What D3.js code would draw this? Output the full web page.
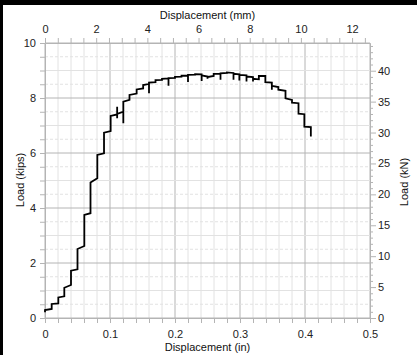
<!DOCTYPE html>
<html>
<head>
<meta charset="utf-8">
<script src="https://cdn.jsdelivr.net/npm/d3@7"></script>
<style>
body { margin: 0; background: #fff; }
svg { display: block; font-family: "Liberation Sans", Arial, sans-serif; }
.tick text { font-size: 11px; fill: #222; }
</style>
</head>
<body>
<div id="chartDiv"></div>
<script>
// load-displacement record (inches, kips)
const dispIn = [
  0, 0, 0.0103, 0.0103, 0.0205, 0.0205, 0.0297, 0.0297, 0.040, 0.040,
  0.050, 0.050, 0.0605, 0.0605, 0.070, 0.070, 0.0805, 0.0805, 0.0908, 0.0908,
  0.101, 0.101, 0.111, 0.111, 0.111, 0.111, 0.1205, 0.1205, 0.1205, 0.130,
  0.130, 0.141, 0.141, 0.151, 0.151, 0.160, 0.160, 0.160, 0.170, 0.170,
  0.180, 0.180, 0.190, 0.190, 0.190, 0.200, 0.200, 0.210, 0.210, 0.220,
  0.220, 0.220, 0.231, 0.231, 0.241, 0.241, 0.241, 0.250, 0.250, 0.250,
  0.2595, 0.2595, 0.270, 0.270, 0.270, 0.280, 0.280, 0.290, 0.290, 0.290,
  0.299, 0.299, 0.299, 0.310, 0.310, 0.310, 0.320, 0.320, 0.320, 0.329,
  0.329, 0.339, 0.339, 0.349, 0.349, 0.349, 0.359, 0.359, 0.370, 0.370,
  0.380, 0.380, 0.390, 0.390, 0.399, 0.399, 0.409, 0.409
];
const loadKips = [
  0.21, 0.29, 0.33, 0.51, 0.53, 0.75, 0.79, 1.10, 1.20, 1.72,
  1.77, 2.51, 2.62, 3.75, 3.81, 4.93, 5.08, 5.93, 5.99, 6.74,
  6.80, 7.35, 7.40, 7.68, 7.26, 7.42, 7.50, 7.08, 7.87, 7.93,
  8.11, 8.16, 8.31, 8.35, 8.47, 8.51, 8.17, 8.56, 8.58, 8.65,
  8.66, 8.70, 8.71, 8.45, 8.72, 8.73, 8.77, 8.78, 8.81, 8.81,
  8.58, 8.84, 8.85, 8.87, 8.86, 8.62, 8.82, 8.78, 8.70, 8.76,
  8.80, 8.88, 8.88, 8.66, 8.90, 8.91, 8.93, 8.91, 8.66, 8.88,
  8.86, 8.64, 8.84, 8.82, 8.60, 8.78, 8.76, 8.60, 8.70, 8.68,
  8.80, 8.80, 8.58, 8.56, 8.30, 8.44, 8.40, 8.30, 8.26, 7.99,
  7.93, 7.83, 7.81, 7.43, 7.41, 6.96, 6.94, 6.60
];

const xTicksIn = d3.range(0, 0.5001, 0.02);
const xLabelsIn = [0, 0.1, 0.2, 0.3, 0.4, 0.5];
const xTicksMm = d3.range(0, 12.51, 0.5);
const xLabelsMm = [0, 2, 4, 6, 8, 10, 12];
const yTicksKips = d3.range(0, 10.01, 0.5);
const yLabelsKips = [0, 2, 4, 6, 8, 10];
const yTicksKn = d3.range(0, 44.01, 1);
const yLabelsKn = [0, 5, 10, 15, 20, 25, 30, 35, 40];

const IN_TO_MM = 25.4, KIP_TO_KN = 4.44822;
const width = 417, height = 355;
const margin = { left: 45, right: 47, top: 43, bottom: 37 };

const svgObj = d3.select('#chartDiv').append('svg')
    .attr('width', width)
    .attr('height', height);

svgObj.append('rect').attr('width', width).attr('height', height).attr('fill', '#fff');

const x = d3.scaleLinear().domain([0, 0.5]).range([margin.left, width - margin.right]);
const y = d3.scaleLinear().domain([0, 10]).range([height - margin.bottom, margin.top]);
const xMm = d3.scaleLinear().domain([0, 0.5 * IN_TO_MM]).range(x.range());
const yKn = d3.scaleLinear().domain([0, 10 * KIP_TO_KN]).range(y.range());

const isLabel = (list, v) => list.some(l => Math.abs(l - v) < 1e-6);

// grid
const grid = svgObj.append('g');
grid.selectAll('.vg').data(xTicksIn).enter().append('line')
    .attr('x1', d => x(d)).attr('x2', d => x(d))
    .attr('y1', y(0)).attr('y2', y(10))
    .attr('stroke', d => isLabel(xLabelsIn, d) ? '#b4b4b4' : '#e2e2e2')
    .attr('stroke-width', 1);
grid.selectAll('.hg').data(yTicksKips).enter().append('line')
    .attr('x1', x(0)).attr('x2', x(0.5))
    .attr('y1', d => y(d)).attr('y2', d => y(d))
    .attr('stroke', d => isLabel(yLabelsKips, d) ? '#b4b4b4' : '#e2e2e2')
    .attr('stroke-dasharray', d => (!isLabel(yLabelsKips, d) && d % 1 !== 0) ? '3,2' : null)
    .attr('stroke-width', 1);

function styleAxis(g){
    g.select('.domain').attr('stroke', '#b4b4b4');
    g.selectAll('.tick line').attr('stroke', '#b4b4b4');
}

svgObj.append('g')
    .attr('transform', `translate(0,${y(0)})`)
    .call(d3.axisBottom(x).tickValues(xTicksIn).tickSize(5).tickSizeOuter(0)
        .tickFormat(d => isLabel(xLabelsIn, d) ? d3.format('~g')(+d.toFixed(2)) : ''))
    .call(styleAxis)
    .call(g => g.selectAll('.tick text').attr('dy', '1.05em'));

svgObj.append('g')
    .attr('transform', `translate(0,${y(10)})`)
    .call(d3.axisTop(xMm).tickValues(xTicksMm).tickSize(5).tickSizeOuter(0)
        .tickFormat(d => isLabel(xLabelsMm, d) ? d : ''))
    .call(styleAxis)
    .call(g => g.selectAll('.tick text').attr('dy', '-0.15em'));

svgObj.append('g')
    .attr('transform', `translate(${x(0)},0)`)
    .call(d3.axisLeft(y).tickValues(yTicksKips).tickSize(5).tickSizeOuter(0)
        .tickFormat(d => isLabel(yLabelsKips, d) ? d : ''))
    .call(styleAxis)
    .call(g => g.selectAll('.tick text').attr('x', -9));

const rightAxis = svgObj.append('g')
    .attr('transform', `translate(${x(0.5)},0)`)
    .call(d3.axisRight(yKn).tickValues(yTicksKn).tickSize(3).tickSizeOuter(0)
        .tickFormat(d => isLabel(yLabelsKn, d) ? d : ''))
    .call(styleAxis)
    .call(g => g.selectAll('.tick text').attr('x', 8));
rightAxis.selectAll('.tick line').attr('x2', d => isLabel(yLabelsKn, d) ? 6 : 3);

// axis titles
const titleStyle = t => t.attr('font-size', 11).attr('fill', '#111').attr('text-anchor', 'middle');
svgObj.append('text').attr('x', (x(0) + x(0.5)) / 2).attr('y', 351).text('Displacement (in)').call(titleStyle);
svgObj.append('text').attr('x', (x(0) + x(0.5)) / 2).attr('y', 19).text('Displacement (mm)').call(titleStyle);
svgObj.append('text').attr('transform', 'translate(24,180) rotate(-90)').text('Load (kips)').call(titleStyle);
svgObj.append('text').attr('transform', 'translate(408,182) rotate(-90)').text('Load (kN)').call(titleStyle);

// curve
const pts = dispIn.map((d, i) => [d, loadKips[i]]);
svgObj.append('path')
    .datum(pts)
    .attr('fill', 'none')
    .attr('stroke', '#000')
    .attr('stroke-width', 1.8)
    .attr('stroke-linejoin', 'miter')
    .attr('d', d3.line().x(d => x(d[0])).y(d => y(d[1])));

// frame edges
svgObj.append('rect').attr('x', 0).attr('y', 0).attr('width', width).attr('height', 5).attr('fill', '#000');
svgObj.append('rect').attr('x', 0).attr('y', 0).attr('width', 3).attr('height', height).attr('fill', '#000');
</script>
</body>
</html>
